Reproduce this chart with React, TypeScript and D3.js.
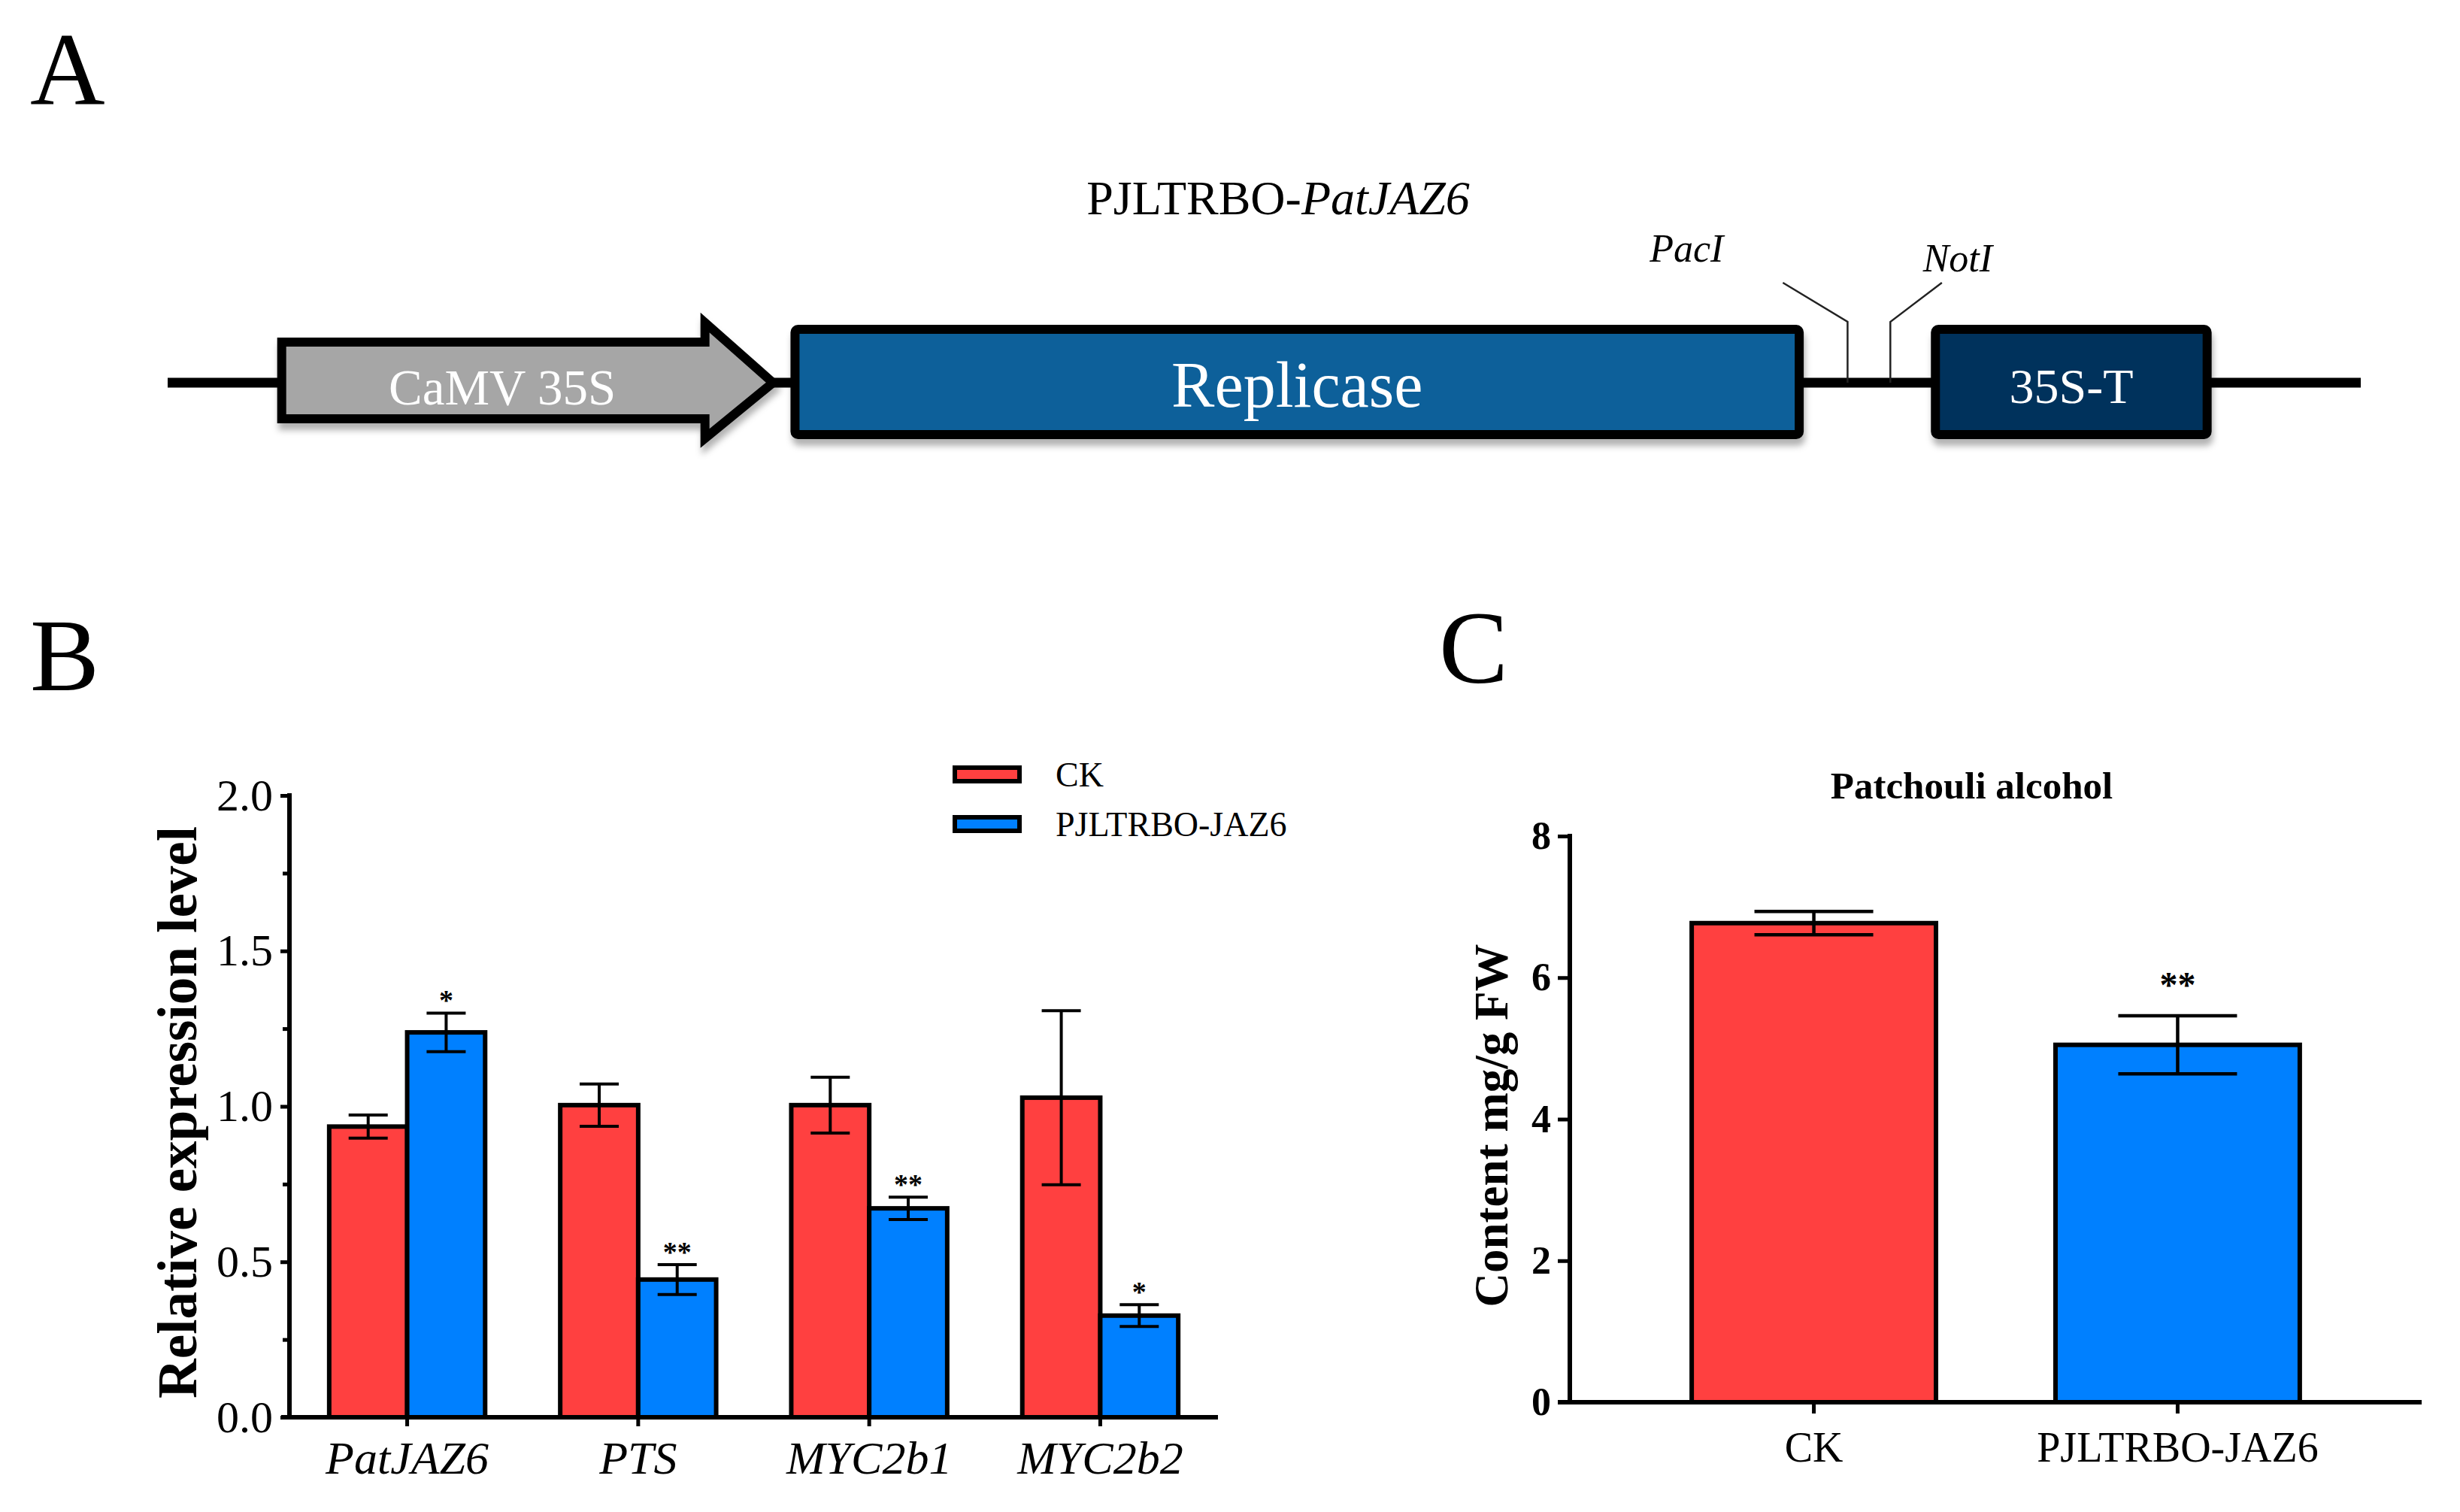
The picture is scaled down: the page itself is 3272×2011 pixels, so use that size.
import React, { useEffect, useRef } from 'react';
import * as d3 from 'd3';

// Panel B: relative expression
const genes = ['PatJAZ6', 'PTS', 'MYC2b1', 'MYC2b2'];
const groups = ['CK', 'PJLTRBO-JAZ6'];
const ckExpr = [0.935, 1.004, 1.004, 1.028];
const ckExprErr = [0.037, 0.068, 0.09, 0.28];
const jazExpr = [1.238, 0.443, 0.672, 0.327];
const jazExprErr = [0.062, 0.048, 0.036, 0.035];
const jazExprSig = ['*', '**', '**', '*'];
const exprTicks = [0, 0.5, 1.0, 1.5, 2.0];
const exprMinorTicks = [0.25, 0.75, 1.25, 1.75];

// Panel C: patchouli alcohol content
const contentCats = ['CK', 'PJLTRBO-JAZ6'];
const contentValues = [6.77, 5.05];
const contentErr = [0.165, 0.41];
const contentSig = ['', '**'];
const contentTicks = [0, 2, 4, 6, 8];

// Panel A: construct map, positions in relative units along the backbone (0-100)
const features = [
  { name: 'CaMV 35S', start: 5.2, headStart: 24.5, end: 27.6, kind: 'promoter', fill: '#a6a6a6', size: 67 },
  { name: 'Replicase', start: 28.4, end: 74.6, kind: 'box', fill: '#07609a', size: 86 },
  { name: '35S-T', start: 80.4, end: 93.2, kind: 'box', fill: '#00325c', size: 66 },
];
const sites = [
  { name: 'PacI', pos: 76.6, tip: 73.65 },
  { name: 'NotI', pos: 78.55, tip: 80.9 },
];

const RED = '#ff4040';
const BLUE = '#0080ff';
const SERIF = '"Liberation Serif", "Times New Roman", serif';

export default function App() {
  const svgRef = useRef<SVGSVGElement>(null);

  useEffect(() => {
    if (!svgRef.current) return;
    const svg = d3.select(svgRef.current);
    svg.selectAll('*').remove();
    svg.attr('font-family', SERIF);

    // ---------- panel letters ----------
    const letters = [
      { t: 'A', x: 40, y: 138 },
      { t: 'B', x: 40, y: 918 },
      { t: 'C', x: 1914, y: 908 },
    ];
    svg.selectAll('text.letter').data(letters).join('text')
      .attr('class', 'letter')
      .attr('x', d => d.x).attr('y', d => d.y)
      .attr('font-size', 138)
      .text(d => d.t);

    // ---------- panel A ----------
    const defs = svg.append('defs');
    const f = defs.append('filter').attr('id', 'shadow')
      .attr('x', '-5%').attr('y', '-20%').attr('width', '110%').attr('height', '150%');
    f.append('feDropShadow').attr('dx', 2).attr('dy', 9).attr('stdDeviation', 4)
      .attr('flood-color', '#000').attr('flood-opacity', 0.3);

    const xA = d3.scaleLinear().domain([0, 100]).range([223, 3140]);
    const lineY = 509;
    const gA = svg.append('g');

    const title = gA.append('text')
      .attr('x', 1700).attr('y', 285)
      .attr('text-anchor', 'middle')
      .attr('font-size', 64);
    title.append('tspan').text('PJLTRBO-');
    title.append('tspan').attr('font-style', 'italic').text('PatJAZ6');

    gA.append('line')
      .attr('x1', xA(0)).attr('x2', xA(100))
      .attr('y1', lineY).attr('y2', lineY)
      .attr('stroke', '#000').attr('stroke-width', 13);

    // restriction sites
    sites.forEach((s, i) => {
      const x = xA(s.pos);
      const tx = xA(s.tip);
      gA.append('path')
        .attr('d', `M${x},${lineY} L${x},428 L${tx},376`)
        .attr('fill', 'none').attr('stroke', '#222').attr('stroke-width', 2.5);
      gA.append('text')
        .attr('x', i === 0 ? tx - 79 : tx + 21)
        .attr('y', i === 0 ? 348 : 361)
        .attr('text-anchor', i === 0 ? 'end' : 'middle')
        .attr('font-style', 'italic')
        .attr('font-size', 52)
        .text(s.name);
    });

    features.forEach(ft => {
      const x0 = xA(ft.start);
      const x1 = xA(ft.end);
      if (ft.kind === 'promoter') {
        const xh = xA(ft.headStart!);
        const top = 455, bot = 557;
        gA.append('path')
          .attr('d', `M${x0},${top} L${xh},${top} L${xh},${top - 26} L${x1},${lineY} L${xh},${bot + 26} L${xh},${bot} L${x0},${bot} Z`)
          .attr('fill', ft.fill).attr('stroke', '#000').attr('stroke-width', 12)
          .attr('stroke-linejoin', 'miter')
          .attr('filter', 'url(#shadow)');
        gA.append('text')
          .attr('x', (x0 + xh) / 2 + 12).attr('y', 538)
          .attr('text-anchor', 'middle').attr('fill', '#fff')
          .attr('font-size', ft.size)
          .text(ft.name);
      } else {
        gA.append('rect')
          .attr('x', x0 + 6).attr('y', 438)
          .attr('width', x1 - x0 - 12).attr('height', 140)
          .attr('rx', 4)
          .attr('fill', ft.fill).attr('stroke', '#000').attr('stroke-width', 12)
          .attr('filter', 'url(#shadow)');
        gA.append('text')
          .attr('x', (x0 + x1) / 2).attr('y', ft.name === 'Replicase' ? 541 : 536)
          .attr('text-anchor', 'middle').attr('fill', '#fff')
          .attr('font-size', ft.size)
          .text(ft.name);
      }
    });

    // ---------- panel B ----------
    const B = { left: 385, right: 1620, top: 1058, bottom: 1885 };
    const xB = d3.scaleBand<string>().domain(genes).range([B.left, B.right])
      .paddingInner(0.325).paddingOuter(0.172);
    const xBi = d3.scaleBand<string>().domain(groups).range([0, xB.bandwidth()]);
    const yB = d3.scaleLinear().domain([0, 2]).range([B.bottom, B.top]);
    const gB = svg.append('g');

    const rowsB = genes.map((g, i) => [
      { gene: g, grp: groups[0], v: ckExpr[i], e: ckExprErr[i], sig: '', fill: RED },
      { gene: g, grp: groups[1], v: jazExpr[i], e: jazExprErr[i], sig: jazExprSig[i], fill: BLUE },
    ]).flat();

    gB.selectAll('rect.bar').data(rowsB).join('rect')
      .attr('class', 'bar')
      .attr('x', d => xB(d.gene)! + xBi(d.grp)!)
      .attr('y', d => yB(d.v))
      .attr('width', xBi.bandwidth())
      .attr('height', d => yB(0) - yB(d.v))
      .attr('fill', d => d.fill)
      .attr('stroke', '#000').attr('stroke-width', 6);

    const errB = gB.selectAll('g.err').data(rowsB).join('g').attr('class', 'err')
      .attr('transform', d => `translate(${xB(d.gene)! + xBi(d.grp)! + xBi.bandwidth() / 2},0)`);
    errB.append('line')
      .attr('y1', d => yB(d.v + d.e)).attr('y2', d => yB(d.v - d.e))
      .attr('stroke', '#000').attr('stroke-width', 4);
    errB.append('line')
      .attr('x1', -26).attr('x2', 26)
      .attr('y1', d => yB(d.v + d.e)).attr('y2', d => yB(d.v + d.e))
      .attr('stroke', '#000').attr('stroke-width', 4);
    errB.append('line')
      .attr('x1', -26).attr('x2', 26)
      .attr('y1', d => yB(d.v - d.e)).attr('y2', d => yB(d.v - d.e))
      .attr('stroke', '#000').attr('stroke-width', 4);
    errB.append('text')
      .attr('y', d => yB(d.v + d.e) - 4)
      .attr('text-anchor', 'middle')
      .attr('font-size', 38).attr('font-weight', 'bold')
      .text(d => d.sig);

    // y axis
    const yAxisB = gB.append('g').attr('transform', `translate(${B.left},0)`)
      .call(d3.axisLeft(yB).tickValues(exprTicks).tickFormat(d3.format('.1f')).tickSize(12).tickPadding(10).tickSizeOuter(0));
    yAxisB.select('.domain').remove();
    yAxisB.selectAll('line').attr('stroke-width', 5);
    yAxisB.selectAll('text').attr('font-size', 60).attr('font-family', SERIF).attr('fill', '#000');
    gB.append('g').attr('transform', `translate(${B.left},0)`)
      .call(d3.axisLeft(yB).tickValues(exprMinorTicks).tickFormat(() => '').tickSize(9).tickSizeOuter(0))
      .call(g => g.select('.domain').remove())
      .selectAll('line').attr('stroke-width', 5);
    gB.append('line')
      .attr('x1', B.left).attr('x2', B.left)
      .attr('y1', yB(2) - 3).attr('y2', yB(0))
      .attr('stroke', '#000').attr('stroke-width', 6);

    // x axis
    const xAxisB = gB.append('g').attr('transform', `translate(0,${B.bottom})`)
      .call(d3.axisBottom(xB).tickSize(12).tickPadding(19).tickSizeOuter(0));
    xAxisB.select('.domain').remove();
    xAxisB.selectAll('line').attr('stroke-width', 5);
    xAxisB.selectAll('text').attr('font-size', 62).attr('font-style', 'italic')
      .attr('font-family', SERIF).attr('fill', '#000');
    gB.append('line')
      .attr('x1', B.left - 11).attr('x2', B.right)
      .attr('y1', B.bottom).attr('y2', B.bottom)
      .attr('stroke', '#000').attr('stroke-width', 6);

    gB.append('text')
      .attr('transform', `translate(236,${(B.top + B.bottom) / 2 + 8}) rotate(-90)`)
      .attr('text-anchor', 'middle').attr('dominant-baseline', 'central')
      .attr('font-size', 73).attr('font-weight', 'bold')
      .text('Relative expression level');

    // legend
    const leg = gB.selectAll('g.leg').data(groups).join('g').attr('class', 'leg')
      .attr('transform', (d, i) => `translate(1270,${1030 + i * 66})`);
    leg.append('rect')
      .attr('x', 0).attr('y', -9).attr('width', 86).attr('height', 18)
      .attr('fill', (d, i) => (i === 0 ? RED : BLUE))
      .attr('stroke', '#000').attr('stroke-width', 6);
    leg.append('text')
      .attr('x', 134).attr('y', 16)
      .attr('font-size', 46)
      .text(d => d);

    // ---------- panel C ----------
    const C = { left: 2088, right: 3221, top: 1112, bottom: 1865 };
    const xC = d3.scaleBand<string>().domain(contentCats).range([C.left, C.right])
      .paddingInner(0.3285).paddingOuter(0.335);
    const yC = d3.scaleLinear().domain([0, 8]).range([C.bottom, C.top]);
    const gC = svg.append('g');

    const rowsC = contentCats.map((c, i) => ({
      c, v: contentValues[i], e: contentErr[i], sig: contentSig[i], fill: i === 0 ? RED : BLUE,
    }));

    gC.selectAll('rect.bar').data(rowsC).join('rect')
      .attr('class', 'bar')
      .attr('x', d => xC(d.c)!)
      .attr('y', d => yC(d.v))
      .attr('width', xC.bandwidth())
      .attr('height', d => yC(0) - yC(d.v))
      .attr('fill', d => d.fill)
      .attr('stroke', '#000').attr('stroke-width', 6);

    const errC = gC.selectAll('g.err').data(rowsC).join('g').attr('class', 'err')
      .attr('transform', d => `translate(${xC(d.c)! + xC.bandwidth() / 2},0)`);
    errC.append('line')
      .attr('y1', d => yC(d.v + d.e)).attr('y2', d => yC(d.v - d.e))
      .attr('stroke', '#000').attr('stroke-width', 4.5);
    [1, -1].forEach(sgn => {
      errC.append('line')
        .attr('x1', -79).attr('x2', 79)
        .attr('y1', d => yC(d.v + sgn * d.e)).attr('y2', d => yC(d.v + sgn * d.e))
        .attr('stroke', '#000').attr('stroke-width', 4.5);
    });
    errC.append('text')
      .attr('y', d => yC(d.v + d.e) - 25)
      .attr('text-anchor', 'middle')
      .attr('font-size', 48).attr('font-weight', 'bold')
      .text(d => d.sig);

    const yAxisC = gC.append('g').attr('transform', `translate(${C.left},0)`)
      .call(d3.axisLeft(yC).tickValues(contentTicks).tickSize(16).tickPadding(9).tickSizeOuter(0));
    yAxisC.select('.domain').remove();
    yAxisC.selectAll('line').attr('stroke-width', 5);
    yAxisC.selectAll('text').attr('font-size', 52).attr('font-weight', 'bold')
      .attr('font-family', SERIF).attr('fill', '#000');
    gC.append('line')
      .attr('x1', C.left).attr('x2', C.left)
      .attr('y1', yC(8) - 3).attr('y2', yC(0))
      .attr('stroke', '#000').attr('stroke-width', 6);

    const xAxisC = gC.append('g').attr('transform', `translate(0,${C.bottom})`)
      .call(d3.axisBottom(xC).tickSize(15).tickPadding(24).tickSizeOuter(0));
    xAxisC.select('.domain').remove();
    xAxisC.selectAll('line').attr('stroke-width', 5);
    xAxisC.selectAll('text').attr('font-size', 56).attr('font-family', SERIF).attr('fill', '#000');
    gC.append('line')
      .attr('x1', C.left - 16).attr('x2', C.right)
      .attr('y1', C.bottom).attr('y2', C.bottom)
      .attr('stroke', '#000').attr('stroke-width', 6);

    gC.append('text')
      .attr('x', (C.left + C.right) / 2 - 32).attr('y', 1062)
      .attr('text-anchor', 'middle')
      .attr('font-size', 51).attr('font-weight', 'bold')
      .text('Patchouli alcohol');

    gC.append('text')
      .attr('transform', `translate(1984,1497) rotate(-90)`)
      .attr('text-anchor', 'middle').attr('dominant-baseline', 'central')
      .attr('font-size', 63).attr('font-weight', 'bold')
      .text('Content mg/g FW');
  }, []);

  return (
    <svg
      ref={svgRef}
      width={3272}
      height={2011}
      style={{ position: 'absolute', left: 0, top: 0, background: '#fff' }}
    />
  );
}
